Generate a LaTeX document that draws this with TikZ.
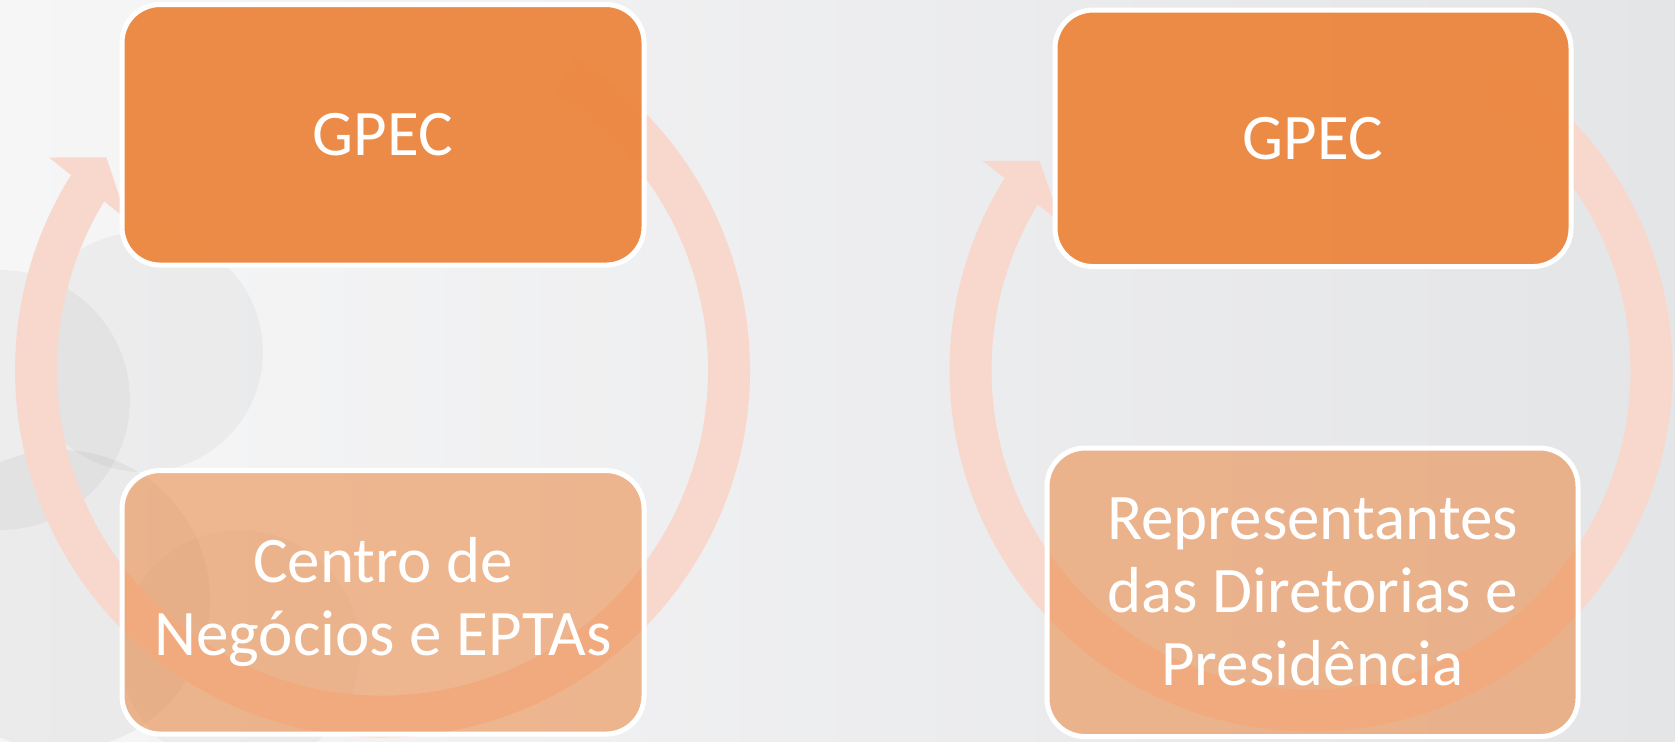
\documentclass[tikz,border=0pt]{standalone}
\usepackage{fontspec}
\setmainfont{Carlito}
\begin{document}
\begin{tikzpicture}[x=0.5pt,y=0.5pt]
\definecolor{bgL}{RGB}{246,246,247}
\definecolor{bgR}{RGB}{228,229,231}
\definecolor{ringc}{RGB}{248,216,205}
\definecolor{boxc}{RGB}{236,134,62}
\tikzset{
  topbox/.style={draw=white, line width=2.5pt, fill=boxc, fill opacity=0.95, text opacity=1,
    rounded corners=19pt, inner sep=0pt, align=center, text=white,
    font=\fontsize{32.5}{36.5}\selectfont},
  botbox/.style={topbox, fill opacity=0.55},
  ringarc/.style={draw=ringc, line width=21pt},
  ringhead/.style={fill=ringc, draw=none},
  blob/.style={fill=black, draw=none},
}
\newcommand{\cyclearrowX}[3]{%
  \begin{scope}[shift={(#1,#2)}]
    \draw[ringarc] (58.5:#3) arc[start angle=58.5, end angle=-212, radius=#3];
    \fill[ringhead] (147.5:{#3+49}) -- (142.4:{#3+2}) -- (149.5:{#3-50}) -- cycle;
  \end{scope}}
% canvas
\useasboundingbox (0,0) rectangle (1675,-741);
\shade[left color=bgL, right color=bgR] (0,0) rectangle (1675,-741);
% faint background decoration
\fill[blob, opacity=0.035] (143,-352) circle[radius=120];
\fill[blob, opacity=0.035] (0,-400) circle[radius=130];
\fill[blob, opacity=0.045] (60,-600) circle[radius=150];
\fill[blob, opacity=0.03] (240,-650) circle[radius=120];
% cycle arrows
\cyclearrowX{382.5}{-370}{346.5}
\cyclearrowX{1311}{-370}{340.5}
% boxes
\node[topbox, minimum width=261pt, minimum height=130.25pt] (gpecA) at (383,-134.8) {GPEC};
\node[botbox, minimum width=261pt, minimum height=131.75pt] (centro) at (383,-602.3) {Centro de\\Negócios e EPTAs};
\node[topbox, minimum width=258pt, minimum height=128.25pt] (gpecB) at (1313,-138.3) {GPEC};
\node[botbox, minimum width=265.5pt, minimum height=144.25pt] (repr) at (1312.5,-592.3) {Representantes\\das Diretorias e\\Presidência};
\end{tikzpicture}
\end{document}
